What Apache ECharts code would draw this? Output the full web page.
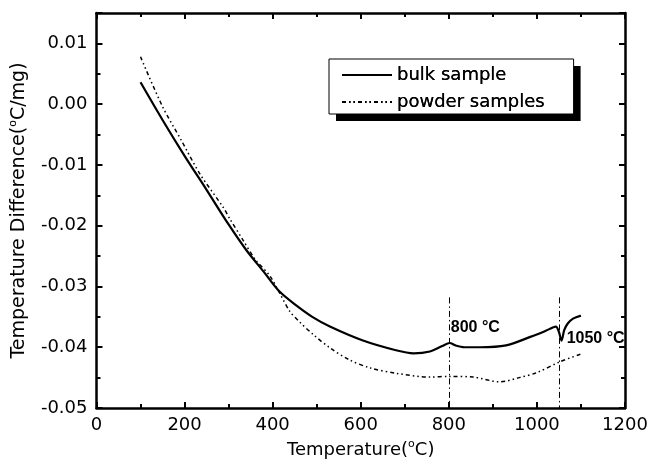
<!DOCTYPE html>
<html>
<head>
<meta charset="utf-8">
<script src="https://cdn.jsdelivr.net/npm/echarts@6/dist/echarts.min.js"></script>
<style>html,body{margin:0;padding:0;background:#fff}#c{width:663px;height:466px}</style>
</head>
<body>
<div id="c"></div>
<script>
// ---- data ----
const bulkTemp = [100, 150, 200, 250, 300, 340, 380, 415, 455, 490, 530, 605, 680, 720, 757, 785, 802, 815, 835, 870, 930, 985, 1020, 1043, 1050, 1056, 1062, 1070, 1082, 1100];
const bulkDiff = [0.0036, -0.0026, -0.0085, -0.0141, -0.0198, -0.0240, -0.0276, -0.0308, -0.0332, -0.0350, -0.0366, -0.0389, -0.0405, -0.0410, -0.0407, -0.0398, -0.0393, -0.0397, -0.0400, -0.0400, -0.0397, -0.0383, -0.0373, -0.0366, -0.0375, -0.0389, -0.0372, -0.0361, -0.0353, -0.0348];
const powderTemp = [100, 150, 193, 235, 288, 303, 333, 360, 394, 416, 439, 462, 492, 530, 575, 621, 681, 757, 802, 855, 916, 960, 999, 1052, 1101];
const powderDiff = [0.0078, -0.0004, -0.0060, -0.0115, -0.0170, -0.0189, -0.0224, -0.0255, -0.0283, -0.0311, -0.0341, -0.0359, -0.0379, -0.0401, -0.0421, -0.0434, -0.0443, -0.0449, -0.0448, -0.0449, -0.0457, -0.0450, -0.0442, -0.0424, -0.0411];
const seriesNames = ['bulk sample', 'powder samples'];
const markerTemp = [800, 1050];
const markerText = ['800 °C', '1050 °C'];
const markerLabelT = [800, 1063];
const markerLabelY = [-0.0367, -0.0385];
const markerTopY = -0.0318;
const xMin = 0, xMax = 1200, xStep = 200;
const yMin = -0.05, yMax = 0.015, yStep = 0.01;

const FONT = 'DejaVu Sans';
const bulkData = bulkTemp.map((t, i) => [t, bulkDiff[i]]);
const powderData = powderTemp.map((t, i) => [t, powderDiff[i]]);

const lineMarks = markerTemp.map(t => [{coord: [t, markerTopY]}, {coord: [t, yMin]}]);
const pointMarks = markerLabelT.map((t, i) => ({coord: [t, markerLabelY[i]], label: {formatter: markerText[i]}}));

const axisLine = {show: true, onZero: false, lineStyle: {color: '#000', width: 2.5}};
const tick = {show: true, inside: true, length: 6, lineStyle: {color: '#000', width: 2}};
const minor = {show: true, splitNumber: 2, length: 4, lineStyle: {color: '#000', width: 2}};
const supRich = {s: {fontFamily: FONT, fontSize: 11, lineHeight: 11, verticalAlign: 'top', color: '#000'}};

const legendBase = {
  orient: 'vertical', left: 329, top: 59,
  data: seriesNames,
  itemWidth: 50, itemHeight: 20, itemGap: 7,
  padding: [6, 29, 2, 12],
  selectedMode: false,
  itemStyle: {opacity: 0},
  textStyle: {fontFamily: FONT, fontSize: 18, color: '#000', lineHeight: 20}
};

const option = {
  animation: false,
  backgroundColor: '#fff',
  grid: {left: 96, right: 38, top: 13, bottom: 58},
  legend: [
    Object.assign({}, legendBase, {
      backgroundColor: '#fff', borderWidth: 0,
      shadowColor: '#000', shadowBlur: 0, shadowOffsetX: 7, shadowOffsetY: 7
    }),
    Object.assign({}, legendBase, {
      backgroundColor: 'transparent', borderColor: '#000', borderWidth: 1
    })
  ],
  xAxis: [{
    type: 'value', min: xMin, max: xMax, interval: xStep,
    name: 'Temperature({s|o}C)', nameLocation: 'middle', nameGap: 30,
    nameTextStyle: {fontFamily: FONT, fontSize: 18, color: '#000', lineHeight: 22, rich: supRich},
    axisLine: axisLine, axisTick: tick, minorTick: minor, splitLine: {show: false},
    axisLabel: {fontFamily: FONT, fontSize: 18, color: '#000', margin: 8, formatter: v => String(v)}
  }, {
    type: 'value', position: 'top', min: xMin, max: xMax, interval: xStep,
    axisLine: axisLine, axisTick: tick, minorTick: minor, splitLine: {show: false},
    axisLabel: {show: false}
  }],
  yAxis: [{
    type: 'value', min: yMin, max: yMax, interval: yStep,
    name: 'Temperature Difference({s|o}C/mg)', nameLocation: 'middle', nameGap: 62,
    nameTextStyle: {fontFamily: FONT, fontSize: 19, color: '#000', lineHeight: 22, rich: supRich},
    axisLine: axisLine, axisTick: tick, minorTick: minor, splitLine: {show: false},
    axisLabel: {
      fontFamily: FONT, fontSize: 18, color: '#000', margin: 9,
      formatter: v => (v > yMax - 0.001 ? '' : (Math.abs(v) < 1e-9 ? '0.00' : v.toFixed(2)))
    }
  }, {
    type: 'value', position: 'right', min: yMin, max: yMax, interval: yStep,
    axisLine: axisLine, axisTick: tick, minorTick: minor, splitLine: {show: false},
    axisLabel: {show: false}
  }],
  series: [{
    name: seriesNames[0], type: 'line', data: bulkData, symbol: 'none', smooth: 0.3,
    lineStyle: {color: '#000', width: 2.2},
    itemStyle: {color: '#000'},
    markLine: {
      silent: true, symbol: 'none', label: {show: false},
      lineStyle: {color: '#000', width: 1, type: [6, 3, 1.5, 3]},
      data: lineMarks
    },
    markPoint: {
      silent: true, symbol: 'circle', symbolSize: 0,
      label: {show: true, position: 'right', distance: 2, fontFamily: 'Liberation Sans', fontWeight: 'bold', fontSize: 16, color: '#000'},
      data: pointMarks
    }
  }, {
    name: seriesNames[1], type: 'line', data: powderData, symbol: 'none', smooth: 0.3,
    lineStyle: {color: '#000', width: 1.5, type: [4, 3, 1.5, 3, 1.5, 3]},
    itemStyle: {color: '#000'}
  }]
};
const chart = echarts.init(document.getElementById('c'), null, {renderer: 'canvas'});
chart.setOption(option);
</script>
</body>
</html>
